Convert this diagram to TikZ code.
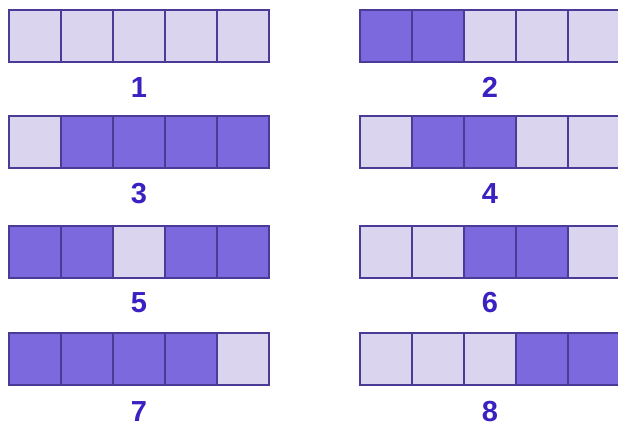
\documentclass[tikz,border=0pt]{standalone}
\usepackage{fontspec}
\setmainfont{Liberation Sans}
\definecolor{lite}{HTML}{DAD4EF}
\definecolor{dark}{HTML}{7C69DE}
\definecolor{edge}{HTML}{4A3C96}
\definecolor{labc}{HTML}{3A22C2}
\begin{document}
\begin{tikzpicture}[x=1pt,y=-1pt,
  cell/.style={draw=edge,line width=1.2pt,minimum width=52pt,minimum height=52pt,inner sep=0pt,outer sep=0pt},
  lab/.style={text=labc,font=\fontsize{29}{29}\selectfont\bfseries,inner sep=0pt,text height=20.8pt,text depth=0pt}]
\useasboundingbox (0,0) rectangle (618,425);
\fill[white] (0,0) rectangle (618,425);
\clip (0,0) rectangle (618,425);
\foreach \n/\x/\y/\ly/\ca/\cb/\cc/\cd/\ce in {
  1/9/10/87/lite/lite/lite/lite/lite,
  2/360/10/87/dark/dark/lite/lite/lite,
  3/9/116/193/lite/dark/dark/dark/dark,
  4/360/116/193/lite/dark/dark/lite/lite,
  5/9/226/302/dark/dark/lite/dark/dark,
  6/360/226/302/lite/lite/dark/dark/lite,
  7/9/333/411/dark/dark/dark/dark/lite,
  8/360/333/411/lite/lite/lite/dark/dark}{
  \foreach \i/\c in {1/\ca,2/\cb,3/\cc,4/\cd,5/\ce}{
    \node[cell,fill=\c,anchor=north west] (r\n c\i) at ({\x+52*(\i-1)},\y) {};
  }
  \node[lab] (l\n) at ({\x+130},\ly) {\n};
}
\end{tikzpicture}
\end{document}
